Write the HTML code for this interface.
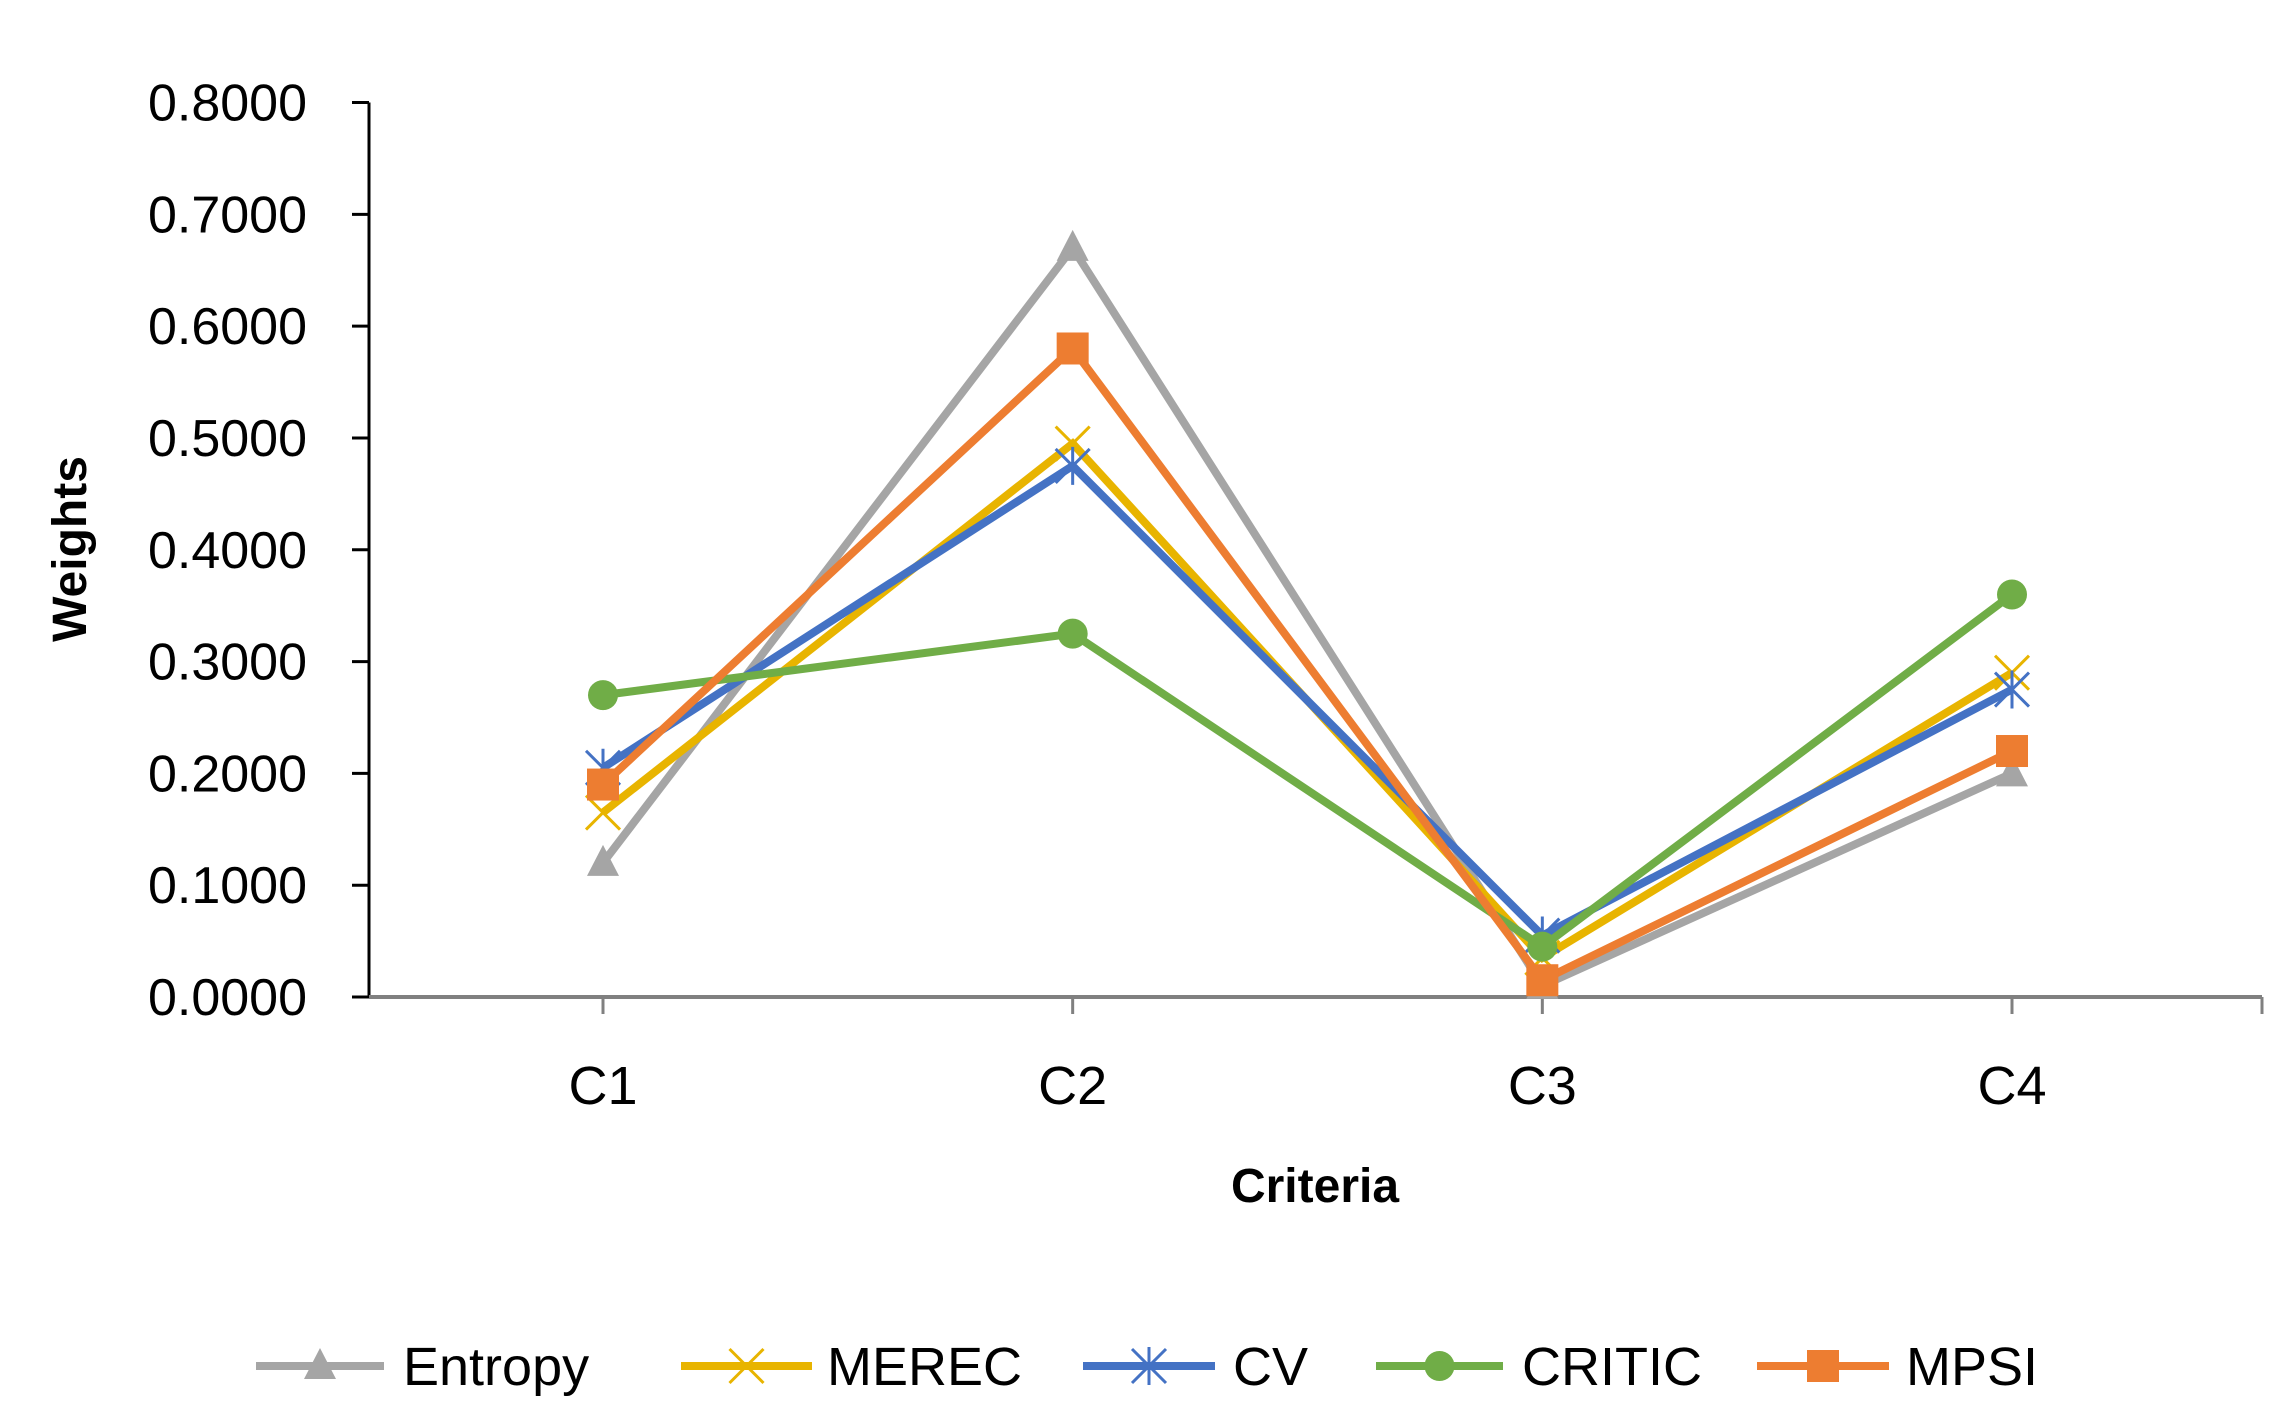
<!DOCTYPE html>
<html><head><meta charset="utf-8"><style>
html,body{margin:0;padding:0;background:#fff;}
svg{display:block;font-family:"Liberation Sans","DejaVu Sans",sans-serif;}
</style></head><body>
<svg id="chart" width="2284" height="1425" viewBox="0 0 2284 1425"></svg>
<script>
const categories = ["C1","C2","C3","C4"];
const seriesNames = ["Entropy","MEREC","CV","CRITIC","MPSI"];
const entropyValues = [0.120, 0.670, 0.010, 0.200];
const merecValues = [0.165, 0.495, 0.035, 0.290];
const cvValues = [0.205, 0.475, 0.055, 0.275];
const criticValues = [0.270, 0.325, 0.045, 0.360];
const mpsiValues = [0.190, 0.580, 0.015, 0.220];
const yTicks = [0,0.1,0.2,0.3,0.4,0.5,0.6,0.7,0.8];

const NS="http://www.w3.org/2000/svg";
const svg=document.getElementById('chart');
function mk(tag,attrs,parent){const e=document.createElementNS(NS,tag);for(const k in attrs)e.setAttribute(k,attrs[k]);(parent||svg).appendChild(e);return e;}
const X0=369,X1=2262,Y0=997,Ytop=102.5,YMAX=0.8;
const CX0=603,CX1=2012;
function xScale(i){return CX0+i*(CX1-CX0)/(categories.length-1);}
function yScale(v){return Y0-(v/YMAX)*(Y0-Ytop);}

const axes=mk('g',{});


let yl=mk('line',{x1:X0,y1:Ytop,x2:X0,y2:Y0,stroke:'#000','stroke-width':3},axes);


let xl=mk('line',{x1:X0,y1:Y0,x2:X1,y2:Y0,stroke:'#808080','stroke-width':4},axes);


yTicks.forEach(v=>{
  const y=yScale(v);
  mk('line',{x1:352,y1:y,x2:X0,y2:y,stroke:'#000','stroke-width':3},axes);
  const t=mk('text',{x:307,y:y+18,'text-anchor':'end','font-size':52,fill:'#000'},axes);
  t.textContent=v.toFixed(4);
  
  
});
categories.forEach((c,i)=>{
  const x=xScale(i);
  mk('line',{x1:x,y1:Y0,x2:x,y2:Y0+17,stroke:'#808080','stroke-width':3},axes);
  const t=mk('text',{x:x,y:1104,'text-anchor':'middle','font-size':54,fill:'#000'},axes);
  t.textContent=c;
  
  
});
mk('line',{x1:X1,y1:Y0,x2:X1,y2:Y0+17,stroke:'#808080','stroke-width':3},axes);

const yt=mk('text',{x:0,y:0,transform:'translate(86,549) rotate(-90)','text-anchor':'middle','font-size':48,'font-weight':'bold',fill:'#000'});
yt.textContent='Weights';


const xt=mk('text',{x:1315,y:1202,'text-anchor':'middle','font-size':48,'font-weight':'bold',fill:'#000'});
xt.textContent='Criteria';



const colors=['#A5A5A5','#E8B400','#4472C4','#70AD47','#ED7D31'];
const markers=['triangle','x','star','circle','square'];
const allValues=[entropyValues,merecValues,cvValues,criticValues,mpsiValues];

function drawMarker(type,x,y,color,parent){
  if(type==='triangle')mk('polygon',{points:`${x},${y-18} ${x-16},${y+13} ${x+16},${y+13}`,fill:color},parent);
  else if(type==='circle')mk('circle',{cx:x,cy:y,r:15,fill:color},parent);
  else if(type==='square')mk('rect',{x:x-16,y:y-16,width:32,height:32,fill:color},parent);
  else if(type==='x'){mk('path',{d:`M${x-17},${y-17}L${x+17},${y+17}M${x+17},${y-17}L${x-17},${y+17}`,stroke:color,'stroke-width':3},parent);}
  else if(type==='star'){mk('path',{d:`M${x-17},${y-17}L${x+17},${y+17}M${x+17},${y-17}L${x-17},${y+17}M${x},${y-19}L${x},${y+19}`,stroke:color,'stroke-width':3},parent);}
}

allValues.forEach((vals,s)=>{
  const g=mk('g',{});
  
  
  const pts=vals.map((v,i)=>xScale(i)+','+yScale(v)).join(' ');
  mk('polyline',{points:pts,fill:'none',stroke:colors[s],'stroke-width':8,'stroke-linejoin':'miter'},g);
  vals.forEach((v,i)=>drawMarker(markers[s],xScale(i),yScale(v),colors[s],g));
});

const legX=[[256,384,403],[681,812,827],[1083,1215,1233],[1376,1503,1522],[1757,1889,1906]];
const LY=1366;
seriesNames.forEach((n,s)=>{
  const g=mk('g',{});
  
  
  const [a,b,tx]=legX[s];
  mk('line',{x1:a,y1:LY,x2:b,y2:LY,stroke:colors[s],'stroke-width':8},g);
  drawMarker(markers[s],(a+b)/2,LY,colors[s],g);
  const t=mk('text',{x:tx,y:LY+19,'font-size':54,fill:'#000'},g);
  t.textContent=n;
});
</script>
</body></html>
